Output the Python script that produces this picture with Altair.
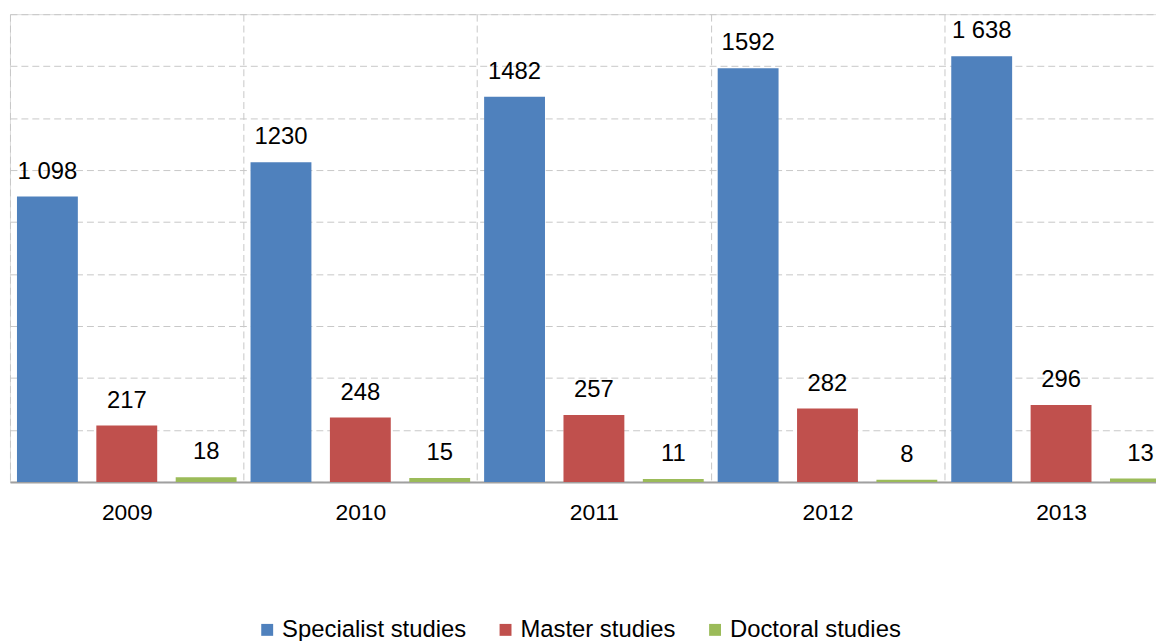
import altair as alt
import pandas as pd

years = ["2009", "2010", "2011", "2012", "2013"]
series_names = ["Specialist studies", "Master studies", "Doctoral studies"]
specialist = [1098, 1230, 1482, 1592, 1638]
master = [217, 248, 257, 282, 296]
doctoral = [18, 15, 11, 8, 13]
specialist_lbl = ["1 098", "1230", "1482", "1592", "1 638"]
master_lbl = ["217", "248", "257", "282", "296"]
doctoral_lbl = ["18", "15", "11", "8", "13"]
colors = ["#4F81BD", "#C0504D", "#9BBB59"]

rows = []
for name, vals, lbls in zip(series_names, [specialist, master, doctoral],
                            [specialist_lbl, master_lbl, doctoral_lbl]):
    for y, v, l in zip(years, vals, lbls):
        rows.append({"year": y, "series": name, "value": v, "label": l})
df = pd.DataFrame(rows)

FONT = "Liberation Sans"
GRID = "#C8C8C8"

x_enc = alt.X(
    "year:N",
    scale=alt.Scale(range=[0, 1176], paddingInner=0, paddingOuter=0),
    axis=alt.Axis(
        title=None, labelAngle=0, tickBand="extent", grid=True,
        gridDash=[7, 4], gridColor=GRID, gridWidth=1,
        domainColor="#A0A0A0", domainWidth=2, ticks=False,
        labelPadding=20, labelFontSize=23, labelFont=FONT, labelColor="#000000",
    ),
)
xo_enc = alt.XOffset(
    "series:N", sort=series_names,
    scale=alt.Scale(paddingInner=0.233, paddingOuter=0.088),
)
y_enc = alt.Y(
    "value:Q",
    scale=alt.Scale(domain=[0, 1800], nice=False),
    axis=alt.Axis(
        title=None, labels=False, ticks=False, domain=False,
        values=list(range(0, 1801, 200)), grid=True,
        gridDash=[7, 4], gridColor=GRID, gridWidth=1,
    ),
)

base = alt.Chart(df)
bars = base.mark_bar().encode(
    x=x_enc, xOffset=xo_enc, y=y_enc,
    color=alt.Color(
        "series:N", sort=series_names,
        scale=alt.Scale(domain=series_names, range=colors),
        legend=alt.Legend(
            title=None, orient="none", legendX=247, legendY=608,
            direction="horizontal", symbolType="square", symbolSize=144,
            symbolStrokeWidth=0, labelFontSize=24, labelFont=FONT,
            labelColor="#000000", columnPadding=27, labelOffset=3,
            padding=0, labelLimit=400,
        ),
    ),
)
texts = base.mark_text(
    baseline="alphabetic", align="center", dy=-18,
    fontSize=24, font=FONT, color="#000000",
).encode(x=x_enc, xOffset=xo_enc, y=y_enc, text="label:N")

chart = alt.layer(bars, texts).properties(
    width=1154, height=471,
    autosize=alt.AutoSizeParams(type="none"),
    padding={"left": 2, "top": 4, "right": 0, "bottom": 158},
).configure_view(stroke=None).configure(font=FONT)

chart.save("out.html", embed_options={"renderer": "svg", "actions": False})
